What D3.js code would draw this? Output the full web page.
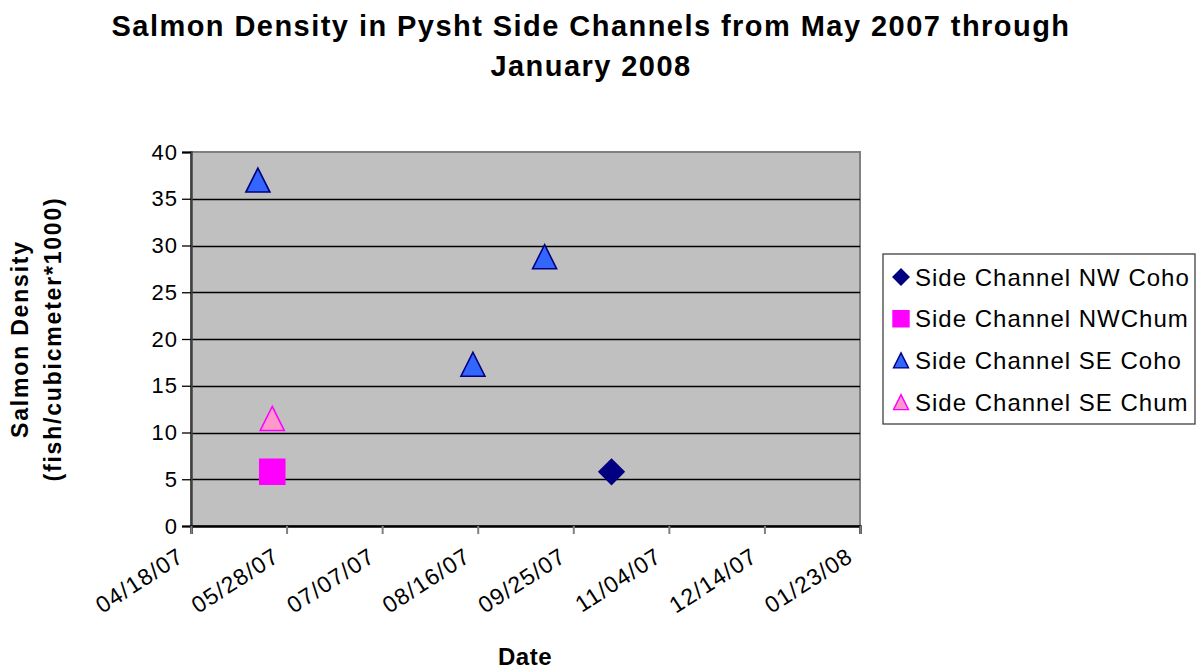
<!DOCTYPE html>
<html>
<head>
<meta charset="utf-8">
<script src="https://cdn.jsdelivr.net/npm/d3@7"></script>
<style>
  html, body { margin: 0; padding: 0; background: #fff; }
  text { font-family: "Liberation Sans", Arial, sans-serif; }
</style>
</head>
<body>
<svg id="chart" width="1201" height="671"></svg>
<script>
// Sampling dates and densities (fish per cubic metre x 1000)
const seriesNames = ["Side Channel NW Coho", "Side Channel NWChum", "Side Channel SE Coho", "Side Channel SE Chum"];
const nwCohoDates = ["10/11/07"];
const nwCohoValues = [5.8];
const nwChumDates = ["05/22/07"];
const nwChumValues = [5.8];
const seCohoDates = ["05/16/07", "08/14/07", "09/13/07"];
const seCohoValues = [37, 17.3, 28.8];
const seChumDates = ["05/22/07"];
const seChumValues = [11.5];
const xTickLabels = ["04/18/07", "05/28/07", "07/07/07", "08/16/07", "09/25/07", "11/04/07", "12/14/07", "01/23/08"];
const yTicks = [0, 5, 10, 15, 20, 25, 30, 35, 40];

const parse = d3.utcParse("%m/%d/%y");
const svg = d3.select("#chart");

const plot = { left: 191, right: 860, top: 152, bottom: 526 };
const x = d3.scaleUtc()
  .domain([parse(xTickLabels[0]), parse(xTickLabels[xTickLabels.length - 1])])
  .range([plot.left, plot.right]);
const y = d3.scaleLinear().domain([0, 40]).range([plot.bottom, plot.top]);

// Custom marker shapes (size = full width in px)
const triangle = { draw(ctx, s) { const h = s / 2; ctx.moveTo(0, -h); ctx.lineTo(h, h); ctx.lineTo(-h, h); ctx.closePath(); } };
const diamond = { draw(ctx, s) { const h = s / 2; ctx.moveTo(0, -h); ctx.lineTo(h, 0); ctx.lineTo(0, h); ctx.lineTo(-h, 0); ctx.closePath(); } };
const square = { draw(ctx, s) { const h = s / 2; ctx.rect(-h, -h, s, s); } };

const styles = [
  { type: diamond, fill: "#000080", stroke: "#000080", size: 25, lsize: 16 },
  { type: square, fill: "#FF00FF", stroke: "#FF00FF", size: 25, lsize: 16 },
  { type: triangle, fill: "#3366FF", stroke: "#000080", size: 24, lsize: 15 },
  { type: triangle, fill: "#FF99CC", stroke: "#FF00FF", size: 24, lsize: 15 }
];
const series = [
  { dates: nwCohoDates, values: nwCohoValues },
  { dates: nwChumDates, values: nwChumValues },
  { dates: seCohoDates, values: seCohoValues },
  { dates: seChumDates, values: seChumValues }
];

// Plot background
svg.append("rect")
  .attr("x", plot.left).attr("y", plot.top)
  .attr("width", plot.right - plot.left).attr("height", plot.bottom - plot.top)
  .attr("fill", "#C0C0C0").attr("stroke", "#808080").attr("stroke-width", 2);

// Horizontal gridlines
svg.append("g").selectAll("line")
  .data(yTicks.filter(v => v > 0 && v < 40))
  .join("line")
  .attr("x1", plot.left).attr("x2", plot.right)
  .attr("y1", d => Math.round(y(d)) + 0.5).attr("y2", d => Math.round(y(d)) + 0.5)
  .attr("stroke", "#000").attr("stroke-width", 1.3);

// Y axis
const yAxis = svg.append("g")
  .attr("transform", `translate(${plot.left},0)`)
  .call(d3.axisLeft(y).tickValues(yTicks).tickSize(9).tickPadding(4).tickFormat(d3.format("d")));
yAxis.select(".domain").attr("stroke", "#404040").attr("stroke-width", 2.5);
yAxis.selectAll(".tick line").attr("stroke", "#000").attr("stroke-width", 1.3);
yAxis.selectAll(".tick text").attr("font-size", 22).attr("fill", "#000")
  .attr("letter-spacing", 1)
  .attr("font-family", "Liberation Sans, Arial, sans-serif");

// X axis
const xAxis = svg.append("g")
  .attr("transform", `translate(0,${plot.bottom})`)
  .call(d3.axisBottom(x).tickValues(xTickLabels.map(parse)).tickSize(8).tickFormat(d3.utcFormat("%m/%d/%y")));
xAxis.select(".domain").attr("stroke", "#000").attr("stroke-width", 2.5);
xAxis.selectAll(".tick line").attr("stroke", "#808080").attr("stroke-width", 2);
xAxis.selectAll(".tick text")
  .attr("font-size", 23).attr("fill", "#000")
  .attr("font-family", "Liberation Sans, Arial, sans-serif")
  .attr("text-anchor", "end")
  .attr("dy", null).attr("y", null)
  .attr("transform", "translate(-6,34) rotate(-33)")
  .attr("letter-spacing", 1.2);

// Markers
series.forEach((s, i) => {
  const st = styles[i];
  svg.append("g").selectAll("path")
    .data(s.dates.map((d, j) => ({ date: parse(d), value: s.values[j] })))
    .join("path")
    .attr("transform", d => `translate(${x(d.date)},${y(d.value)})`)
    .attr("d", d3.symbol().type(st.type).size(st.size))
    .attr("fill", st.fill).attr("stroke", st.stroke).attr("stroke-width", 1.6);
});

// Title
const title = svg.append("text").attr("x", 591).attr("y", 36)
  .attr("text-anchor", "middle").attr("font-size", 29).attr("font-weight", "bold")
  .attr("letter-spacing", 1.45);
title.append("tspan").attr("x", 591).text("Salmon Density in Pysht Side Channels from May 2007 through");
title.append("tspan").attr("x", 591).attr("dy", 40).text("January 2008");

// Axis titles
const yTitle = svg.append("text")
  .attr("transform", "translate(0,339) rotate(-90)")
  .attr("text-anchor", "middle").attr("font-size", 23).attr("font-weight", "bold")
  .attr("letter-spacing", 1.8);
yTitle.append("tspan").attr("x", 0).attr("y", 28).text("Salmon Density");
yTitle.append("tspan").attr("x", 0).attr("y", 61).text("(fish/cubicmeter*1000)");

svg.append("text").attr("x", 525).attr("y", 665)
  .attr("text-anchor", "middle").attr("font-size", 24).attr("font-weight", "bold")
  .attr("letter-spacing", 0.5).text("Date");

// Legend
const legend = svg.append("g");
legend.append("rect").attr("x", 883).attr("y", 254).attr("width", 312).attr("height", 170)
  .attr("fill", "#fff").attr("stroke", "#404040").attr("stroke-width", 1.3);
const rows = legend.selectAll("g.row").data(seriesNames).join("g")
  .attr("class", "row")
  .attr("transform", (d, i) => `translate(0,${277 + i * 41.7})`);
rows.append("path")
  .attr("transform", "translate(901,0)")
  .attr("d", (d, i) => d3.symbol().type(styles[i].type).size(styles[i].lsize)())
  .attr("fill", (d, i) => styles[i].fill)
  .attr("stroke", (d, i) => styles[i].stroke).attr("stroke-width", 1.4);
rows.append("text").attr("x", 915).attr("y", 8.5)
  .attr("font-size", 24).attr("letter-spacing", 1.0)
  .text(d => d);
</script>
</body>
</html>
